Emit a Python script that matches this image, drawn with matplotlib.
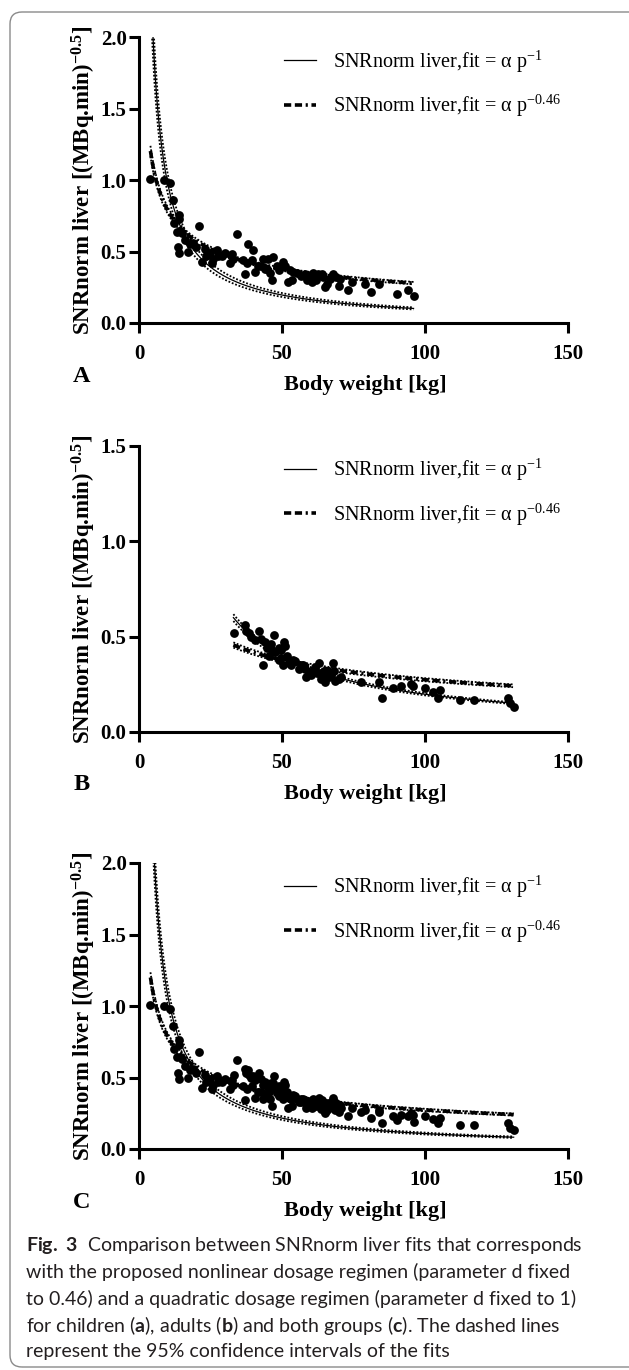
import numpy as np
import matplotlib
matplotlib.use("Agg")
import matplotlib.pyplot as plt
from matplotlib.patches import FancyBboxPatch

plt.rcParams['font.family'] = 'Liberation Serif'
plt.rcParams['mathtext.fontset'] = 'custom'
plt.rcParams['mathtext.default'] = 'regular'
plt.rcParams['mathtext.rm'] = 'Lato'
plt.rcParams['mathtext.bf'] = 'Lato:bold'

# children (panel A)
child_w = [3.9, 8.9, 10.8, 11.8, 14.1, 14.1, 13.2, 12.2, 13.8, 14.0, 17.0, 21.1, 15.0,
           19.0, 21.9, 23.1, 24.8, 25.4, 27.2, 27.7, 30.1, 31.8, 32.4, 34.2, 36.5, 37.0,
           37.6, 38.2, 40.0, 39.4, 40.6, 41.7, 43.5, 45.2, 47.0, 44.6, 45.8, 46.4, 48.1,
           50.5, 51.0, 52.2, 53.4, 52.8, 55.1, 58.0, 58.6, 59.8, 60.4, 61.0, 61.5, 62.7,
           63.9, 65.0, 65.6, 66.8, 67.9, 70.0, 70.2, 73.2, 74.4, 79.0, 81.0, 84.0, 90.1,
           94.2, 96.2, 16.0, 18.0, 20.0, 23.5, 26.0, 29.0, 33.0, 42.5, 44.0, 49.0, 54.0,
           56.5, 62.0, 64.5, 69.0]
child_snr = [1.01, 1.00, 0.98, 0.86, 0.76, 0.73, 0.64, 0.70, 0.53, 0.49, 0.50, 0.68, 0.63,
             0.56, 0.43, 0.52, 0.49, 0.42, 0.51, 0.47, 0.49, 0.42, 0.48, 0.62, 0.44, 0.34,
             0.42, 0.55, 0.51, 0.44, 0.36, 0.40, 0.45, 0.45, 0.46, 0.38, 0.35, 0.30, 0.40,
             0.43, 0.40, 0.29, 0.30, 0.37, 0.35, 0.34, 0.30, 0.33, 0.29, 0.35, 0.31, 0.34,
             0.34, 0.25, 0.27, 0.31, 0.34, 0.26, 0.31, 0.23, 0.29, 0.27, 0.22, 0.27, 0.20,
             0.23, 0.19, 0.58, 0.55, 0.53, 0.47, 0.45, 0.47, 0.45, 0.40, 0.38, 0.37, 0.36,
             0.33, 0.30, 0.32, 0.32]

# adults (panel B)
adult_w = [33.1, 36.9, 38.3, 39.0, 41.9, 42.6, 43.3, 44.0, 44.7, 46.1, 47.2, 47.5, 48.9,
           49.6, 50.6, 51.0, 48.9, 51.7, 50.3, 53.8, 54.5, 55.9, 57.3, 58.4, 59.4, 60.8,
           62.2, 62.9, 63.6, 64.6, 65.0, 65.7, 66.4, 67.8, 68.3, 68.5, 69.9, 77.7, 84.0,
           85.1, 88.9, 91.7, 95.2, 95.9, 99.9, 102.9, 104.4, 105.1, 112.1, 117.0, 128.9,
           129.6, 131.0, 45.5, 46.5, 52.5, 56.5, 58.0, 60.0, 61.5, 63.0, 64.0, 66.0, 67.0,
           70.5, 37.5, 40.5, 53.0, 49.5]
adult_snr = [0.52, 0.56, 0.52, 0.50, 0.53, 0.49, 0.35, 0.47, 0.44, 0.46, 0.51, 0.42, 0.44,
             0.39, 0.47, 0.45, 0.38, 0.40, 0.35, 0.38, 0.37, 0.33, 0.35, 0.29, 0.31, 0.32,
             0.31, 0.36, 0.28, 0.32, 0.26, 0.31, 0.29, 0.36, 0.32, 0.27, 0.28, 0.26, 0.26,
             0.18, 0.23, 0.24, 0.25, 0.24, 0.23, 0.21, 0.18, 0.22, 0.17, 0.17, 0.18, 0.15,
             0.13, 0.40, 0.43, 0.36, 0.35, 0.33, 0.30, 0.34, 0.31, 0.30, 0.32, 0.30, 0.29,
             0.53, 0.48, 0.35, 0.43]

# fits per panel: SNR = alpha * p^-d
panel_names = ['A', 'B', 'C']
alpha_p1 = [9.8, 19.8, 10.8]       # d fixed to 1
ci_p1 = [0.07, 0.03, 0.06]
alpha_p046 = [2.28, 2.28, 2.27]    # d fixed to 0.46
ci_p046 = [0.03, 0.03, 0.03]
w_min = [4, 33, 4]
w_max = [96, 131, 131]
y_max = [2.0, 1.5, 2.0]
y_ticks = [[0.0, 0.5, 1.0, 1.5, 2.0], [0.0, 0.5, 1.0, 1.5], [0.0, 0.5, 1.0, 1.5, 2.0]]
x_ticks = [0, 50, 100, 150]

W, H = 629, 1370
fig = plt.figure(figsize=(W / 100, H / 100), dpi=100)

# frame around the figure
frame = FancyBboxPatch((0.10, 0.03), 6.6, 13.55, boxstyle="round,pad=0,rounding_size=0.12",
                       transform=fig.dpi_scale_trans, fill=False, ec='#8a8a8a', lw=1.0)
fig.patches.append(frame)

ax_top = [37.5, 446, 863]
ax_bot = [323, 732, 1149]

for i in range(3):
    ax = fig.add_axes([139 / W, 1 - ax_bot[i] / H, 429 / W, (ax_bot[i] - ax_top[i]) / H])
    if i == 0:
        xs, ys = child_w, child_snr
    elif i == 1:
        xs, ys = adult_w, adult_snr
    else:
        xs, ys = child_w + adult_w, child_snr + adult_snr

    p = np.linspace(w_min[i], w_max[i], 400)
    l1, = ax.plot(p, alpha_p1[i] / p, color='black', lw=0.9)
    for k in (-1, 1):
        ax.plot(p, alpha_p1[i] * (1 + k * ci_p1[i]) / p, color='black', lw=1.3, ls=(0, (1, 1)))
    l2, = ax.plot(p, alpha_p046[i] * p ** -0.46, color='black', lw=2.6, ls=(0, (2, 1, 2, 1, 0.6, 1)))
    for k in (-1, 1):
        ax.plot(p, alpha_p046[i] * (1 + k * ci_p046[i]) * p ** -0.46, color='black',
                lw=1.3, ls=(0, (1, 1)))
    ax.scatter(xs, ys, s=40, color='black', zorder=3, linewidths=0)

    ax.set_xlim(0, 150)
    ax.set_ylim(0, y_max[i])
    ax.set_xticks(x_ticks)
    ax.set_yticks(y_ticks[i])
    ax.set_xticklabels([str(t) for t in x_ticks])
    ax.set_yticklabels(['%.1f' % t for t in y_ticks[i]])
    for s in ('top', 'right'):
        ax.spines[s].set_visible(False)
    for s in ('left', 'bottom'):
        ax.spines[s].set_linewidth(2.2)
    ax.tick_params(width=2.2, length=7, labelsize=15)
    ax.tick_params(axis='x', pad=8)
    ax.tick_params(axis='y', pad=2)
    for lab in ax.get_xticklabels() + ax.get_yticklabels():
        lab.set_fontweight('bold')

    ax.set_ylabel('SNRnorm liver [(MBq.min)$^{-0.5}$]', fontsize=16.5, fontweight='bold')
    ax.yaxis.set_label_coords(-0.095, 0.5)
    hgt = ax_bot[i] - ax_top[i]
    ax.text((365 - 139) / 429, -62 / hgt, 'Body weight [kg]', transform=ax.transAxes,
            ha='center', va='center', fontsize=16, fontweight='bold')
    ax.text((82 - 139) / 429, -53 / hgt, panel_names[i], transform=ax.transAxes,
            ha='center', va='center', fontsize=17.5, fontweight='bold')

    ax.legend([l1, l2], ['SNRnorm liver,fit = α p$^{-1}$', 'SNRnorm liver,fit = α p$^{-0.46}$'],
              loc='upper left', bbox_to_anchor=(0.338, 1 - 11 / hgt), frameon=False,
              fontsize=14.5, borderpad=0, borderaxespad=0, handlelength=1.6,
              handletextpad=0.85, labelspacing=0.9)

caption = [
    r'$\mathbf{Fig.}$ $\mathbf{3}$  Comparison between SNRnorm liver fits that corresponds',
    'with the proposed nonlinear dosage regimen (parameter d fixed',
    'to 0.46) and a quadratic dosage regimen (parameter d fixed to 1)',
    r'for children ($\mathbf{a}$), adults ($\mathbf{b}$) and both groups ($\mathbf{c}$). The dashed lines',
    'represent the 95% confidence intervals of the fits',
]
cap_y = [1243, 1270, 1297, 1323, 1350]
for txt, yy in zip(caption, cap_y):
    fig.text(26 / W, 1 - yy / H, txt, family='Lato', fontsize=14, color='#231f20',
             ha='left', va='center_baseline')

fig.savefig('out.png', dpi=100)
